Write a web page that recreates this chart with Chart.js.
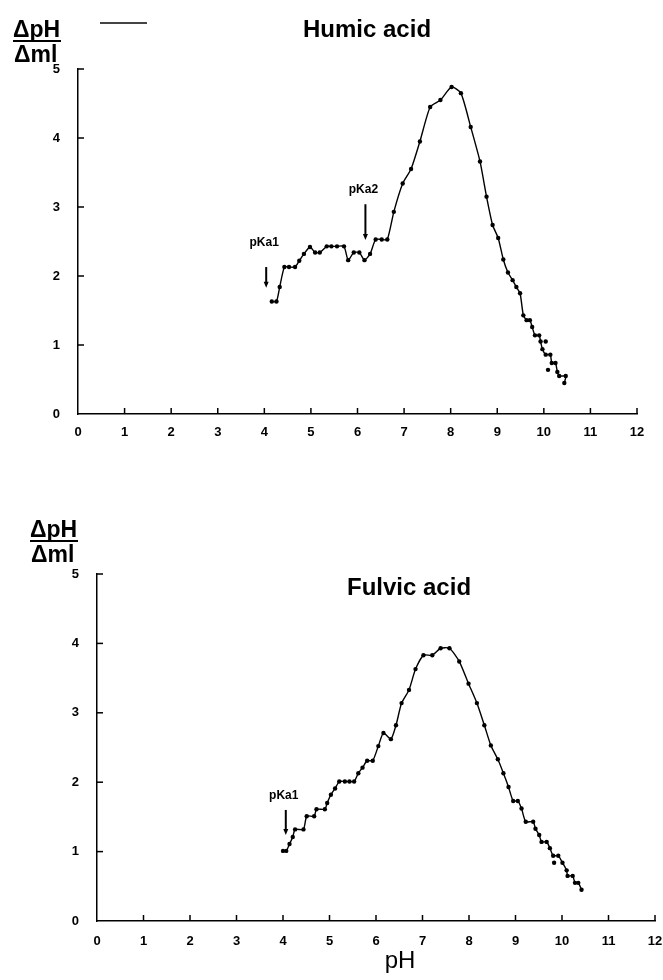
<!DOCTYPE html>
<html>
<head>
<meta charset="utf-8">
<script src="https://cdn.jsdelivr.net/npm/chart.js@4.4.1/dist/chart.umd.min.js"></script>
<style>
  body { margin: 0; background: #fff; overflow: hidden; }
  #wrap { position: relative; width: 663px; height: 980px; overflow: hidden; }
  canvas { position: absolute; left: 0; }
</style>
</head>
<body>
<div id="wrap">
  <canvas id="humic-chart" width="663" height="450" style="top:0"></canvas>
  <canvas id="fulvic-chart" width="690" height="480" style="top:500px"></canvas>
</div>
<script>
// --- Data --- //
const humicPH = [4.16, 4.26, 4.33, 4.43, 4.53, 4.66, 4.75, 4.85, 4.98, 5.09, 5.19, 5.34, 5.44, 5.56, 5.71,
  5.80, 5.92, 6.04, 6.15, 6.27, 6.39, 6.52, 6.64, 6.78, 6.97, 7.15, 7.34, 7.56, 7.78, 8.02, 8.22, 8.43,
  8.63, 8.77, 8.90, 9.02, 9.13, 9.23, 9.33, 9.41, 9.49, 9.56, 9.63, 9.70, 9.75, 9.81, 9.90, 9.93, 9.97,
  10.04, 10.14, 10.17, 10.25, 10.29, 10.33, 10.47, 10.44];
const humicRate = [1.63, 1.63, 1.84, 2.13, 2.13, 2.13, 2.22, 2.32, 2.42, 2.34, 2.34, 2.43, 2.43, 2.43, 2.43,
  2.23, 2.34, 2.34, 2.23, 2.32, 2.53, 2.53, 2.53, 2.93, 3.34, 3.55, 3.95, 4.45, 4.55, 4.74, 4.65, 4.16,
  3.66, 3.15, 2.74, 2.55, 2.24, 2.05, 1.94, 1.84, 1.75, 1.43, 1.36, 1.36, 1.26, 1.14, 1.14, 1.05, 0.94,
  0.86, 0.86, 0.74, 0.74, 0.61, 0.55, 0.55, 0.45];
const humicStrayPH = [10.04, 10.09];
const humicStrayRate = [1.05, 0.64];

const fulvicPH = [4.00, 4.07, 4.14, 4.21, 4.26, 4.44, 4.51, 4.67, 4.72, 4.90, 4.95, 5.03, 5.12, 5.21, 5.33,
  5.43, 5.53, 5.62, 5.71, 5.81, 5.93, 6.05, 6.16, 6.32, 6.43, 6.55, 6.71, 6.85, 7.02, 7.21, 7.39, 7.58,
  7.79, 7.99, 8.17, 8.33, 8.47, 8.62, 8.74, 8.85, 8.95, 9.05, 9.13, 9.22, 9.38, 9.43, 9.51, 9.56, 9.67,
  9.74, 9.81, 9.92, 10.01, 10.10, 10.12, 10.23, 10.28, 10.35, 10.42];
const fulvicRate = [1.01, 1.01, 1.11, 1.21, 1.32, 1.32, 1.51, 1.51, 1.61, 1.61, 1.70, 1.82, 1.91, 2.01, 2.01,
  2.01, 2.01, 2.13, 2.21, 2.31, 2.31, 2.52, 2.71, 2.62, 2.82, 3.14, 3.33, 3.63, 3.83, 3.83, 3.93, 3.93,
  3.74, 3.42, 3.14, 2.82, 2.53, 2.33, 2.13, 1.93, 1.73, 1.73, 1.62, 1.43, 1.43, 1.33, 1.24, 1.14, 1.14,
  1.05, 0.94, 0.94, 0.84, 0.73, 0.65, 0.65, 0.55, 0.55, 0.45];
const fulvicStrayPH = [9.83];
const fulvicStrayRate = [0.84];

// pKa arrows: label, pH, arrow start, arrow tip, label height
const humicMarkLabels = ['pKa1', 'pKa2'];
const humicMarkPH = [4.04, 6.17];
const humicMarkFrom = [2.13, 3.04];
const humicMarkTip = [1.83, 2.52];
const humicMarkText = [2.49, 3.25];

const fulvicMarkLabels = ['pKa1'];
const fulvicMarkPH = [4.06];
const fulvicMarkFrom = [1.60];
const fulvicMarkTip = [1.24];
const fulvicMarkText = [1.80];

const FONT = "'Liberation Sans', Arial, Helvetica, sans-serif";
Chart.defaults.font.family = FONT;
Chart.defaults.color = '#000';

// --- Plugins --- //
// small tick marks pointing into the plot, like the original figure
const inwardTicks = {
    id: 'inwardTicks',
    afterDraw(chart) {
        const { ctx, scales: { x, y } } = chart;
        ctx.save();
        ctx.strokeStyle = '#000';
        ctx.lineWidth = 1.5;
        x.ticks.forEach(t => {
            if (t.value === 0) return;
            const px = x.getPixelForValue(t.value);
            ctx.beginPath();
            ctx.moveTo(px, y.bottom);
            ctx.lineTo(px, y.bottom - 6);
            ctx.stroke();
        });
        y.ticks.forEach(t => {
            if (t.value === 0) return;
            const py = y.getPixelForValue(t.value);
            ctx.beginPath();
            ctx.moveTo(x.left, py);
            ctx.lineTo(x.left + 6, py);
            ctx.stroke();
        });
        ctx.restore();
    }
};

const pkaMarkers = {
    id: 'pkaMarkers',
    afterDatasetsDraw(chart, args, opts) {
        const { ctx, scales: { x, y } } = chart;
        ctx.save();
        ctx.fillStyle = '#000';
        ctx.strokeStyle = '#000';
        ctx.font = 'bold 12px ' + FONT;
        ctx.textAlign = 'center';
        ctx.textBaseline = 'middle';
        (opts.labels || []).forEach((lab, i) => {
            const px = x.getPixelForValue(opts.ph[i]);
            const y0 = y.getPixelForValue(opts.from[i]);
            const y1 = y.getPixelForValue(opts.tip[i]);
            ctx.lineWidth = 2;
            ctx.beginPath();
            ctx.moveTo(px, y0);
            ctx.lineTo(px, y1 - 5);
            ctx.stroke();
            ctx.beginPath();
            ctx.moveTo(px - 2.5, y1 - 6);
            ctx.lineTo(px + 2.5, y1 - 6);
            ctx.lineTo(px, y1);
            ctx.closePath();
            ctx.fill();
            ctx.fillText(lab, px - 2, y.getPixelForValue(opts.text[i]));
        });
        ctx.restore();
    }
};

// y-axis caption (fraction) and panel title
const captions = {
    id: 'captions',
    afterDraw(chart, args, opts) {
        const ctx = chart.ctx;
        ctx.save();
        ctx.fillStyle = '#000';
        ctx.strokeStyle = '#000';
        ctx.textAlign = 'left';
        ctx.textBaseline = 'alphabetic';
        ctx.font = 'bold 23px ' + FONT;
        ctx.fillText('\u0394pH', opts.fracX, opts.fracY);
        ctx.lineWidth = 2;
        ctx.beginPath();
        ctx.moveTo(opts.fracX, opts.fracY + 4);
        ctx.lineTo(opts.fracX + 48, opts.fracY + 4);
        ctx.stroke();
        ctx.fillText('\u0394ml', opts.fracX + 1, opts.fracY + 25);
        ctx.font = 'bold 24px ' + FONT;
        ctx.fillText(opts.title, opts.titleX, opts.titleY);
        if (opts.xTitle) {
            ctx.font = '24px ' + FONT;
            ctx.textAlign = 'center';
            ctx.fillText(opts.xTitle, opts.xTitleX, opts.xTitleY);
        }
        if (opts.stroke) {
            // stray short rule at the top of the original scan
            ctx.strokeStyle = '#444';
            ctx.lineWidth = 2;
            ctx.beginPath();
            ctx.moveTo(opts.stroke[0], opts.stroke[1]);
            ctx.lineTo(opts.stroke[2], opts.stroke[1]);
            ctx.stroke();
        }
        ctx.restore();
    }
};

function toPoints(xs, ys) {
    return xs.map((v, i) => ({ x: v, y: ys[i] }));
}

function buildChart(id, s) {
    const ctx = document.getElementById(id).getContext('2d');
    return new Chart(ctx, {
        type: 'scatter',
        data: {
            datasets: [
                {
                    data: toPoints(s.ph, s.rate),
                    showLine: true,
                    borderColor: '#000',
                    borderWidth: 1.4,
                    tension: 0.2,
                    pointRadius: 2.2,
                    pointBorderWidth: 0,
                    pointBackgroundColor: '#000'
                },
                {
                    data: toPoints(s.strayPh, s.strayRate),
                    showLine: false,
                    pointRadius: 2.2,
                    pointBorderWidth: 0,
                    pointBackgroundColor: '#000'
                }
            ]
        },
        options: {
            responsive: false,
            animation: false,
            devicePixelRatio: 1,
            layout: { padding: s.padding },
            scales: {
                x: {
                    type: 'linear',
                    min: 0,
                    max: 12,
                    grid: { display: false },
                    border: { display: true, color: '#000', width: 1.5 },
                    ticks: {
                        stepSize: 1,
                        padding: s.xPad,
                        color: '#000',
                        font: { size: 13, weight: 'bold' }
                    },
                    afterFit: scale => { scale.height = s.xHeight; }
                },
                y: {
                    min: 0,
                    max: 5,
                    grid: { display: false },
                    border: { display: true, color: '#000', width: 1.5 },
                    ticks: {
                        stepSize: 1,
                        padding: 10,
                        color: '#000',
                        font: { size: 13, weight: 'bold' }
                    },
                    afterFit: scale => { scale.width = s.yWidth; }
                }
            },
            plugins: {
                legend: { display: false },
                tooltip: { enabled: false },
                pkaMarkers: s.markers,
                captions: s.captions
            }
        },
        plugins: [inwardTicks, pkaMarkers, captions]
    });
}

// --- Humic acid panel --- //
buildChart('humic-chart', {
    ph: humicPH, rate: humicRate,
    strayPh: humicStrayPH, strayRate: humicStrayRate,
    padding: { top: 69, right: 26, bottom: 0, left: 0 },
    xHeight: 36, yWidth: 78, xPad: 3,
    markers: { labels: humicMarkLabels, ph: humicMarkPH, from: humicMarkFrom, tip: humicMarkTip, text: humicMarkText },
    captions: { fracX: 13, fracY: 37, title: 'Humic acid', titleX: 303, titleY: 37, stroke: [100, 23, 147] }
});

// --- Fulvic acid panel (canvas a bit wider than the page so the axis reaches 655px) --- //
buildChart('fulvic-chart', {
    ph: fulvicPH, rate: fulvicRate,
    strayPh: fulvicStrayPH, strayRate: fulvicStrayRate,
    padding: { top: 74, right: 35, bottom: 0, left: 0 },
    xHeight: 59, yWidth: 97, xPad: 5,
    markers: { labels: fulvicMarkLabels, ph: fulvicMarkPH, from: fulvicMarkFrom, tip: fulvicMarkTip, text: fulvicMarkText },
    captions: { fracX: 30, fracY: 37, title: 'Fulvic acid', titleX: 347, titleY: 95, xTitle: 'pH', xTitleX: 400, xTitleY: 468 }
});
</script>
</body>
</html>
